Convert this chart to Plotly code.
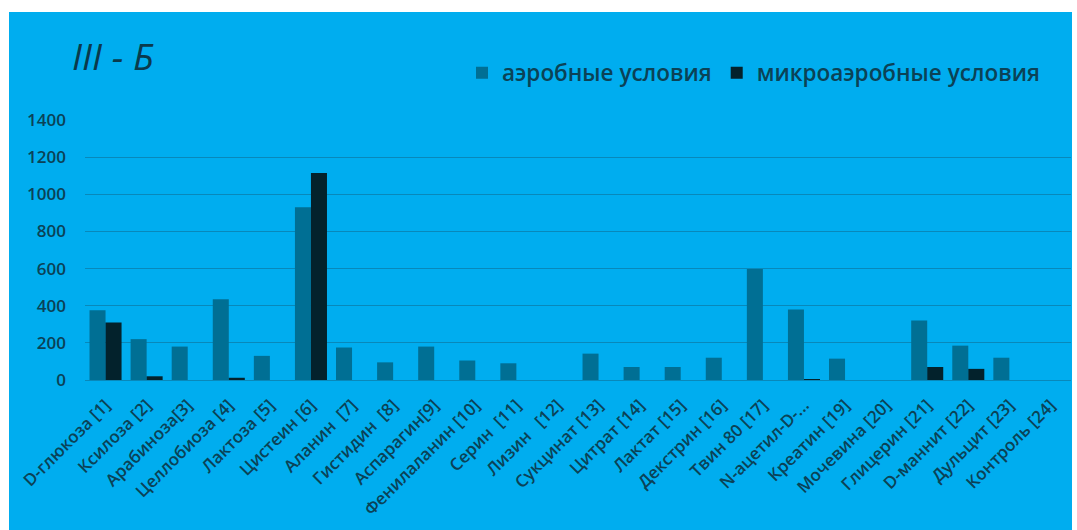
import plotly.graph_objects as go

# Substrates tested (x-axis categories)
categories = [
    "D-глюкоза [1]", "Ксилоза [2]", "Арабиноза[3]", "Целлобиоза [4]",
    "Лактоза [5]", "Цистеин [6]", "Аланин\u00a0 [7]", "Гистидин\u00a0 [8]",
    "Аспарагин[9]", "Фенилаланин [10]", "Серин\u00a0 [11]", "Лизин\u00a0\u00a0 [12]",
    "Сукцинат [13]", "Цитрат [14]", "Лактат [15]", "Декстрин [16]",
    "Твин 80 [17]", "N-ацетил-D-...", "Креатин [19]", "Мочевина [20]",
    "Глицерин [21]", "D-маннит [22]", "Дульцит [23]", "Контроль [24]",
]

# Growth under aerobic conditions
aerobic = [375, 220, 180, 435, 130, 930, 175, 95, 180, 105, 90, 0,
           142, 70, 70, 120, 598, 380, 115, 0, 320, 185, 120, 0]

# Growth under microaerobic conditions
microaerobic = [310, 20, 0, 12, 0, 1115, 0, 0, 0, 0, 0, 0,
                0, 0, 0, 0, 0, 5, 0, 0, 70, 60, 0, 0]

y_ticks = [0, 200, 400, 600, 800, 1000, 1200, 1400]

BG = "#00ADEF"
AERO = "#006F94"
MICRO = "#03222C"
GRID = "#0888BA"
TEXT = "#0B4256"
FONT = "Open Sans"

W, H = 1077, 530
ML, MR, MT, MB = 85, 6, 120, 150
PW = W - ML - MR
PH = H - MT - MB


def px_x(p):
    return (p - ML) / PW


def px_y(p):
    return (H - MB - p) / PH


fig = go.Figure()
fig.add_trace(go.Bar(name="аэробные условия", x=categories, y=aerobic,
                     marker=dict(color=AERO, line=dict(width=0))))
fig.add_trace(go.Bar(name="микроаэробные условия", x=categories, y=microaerobic,
                     marker=dict(color=MICRO, line=dict(width=0))))

# Blue chart panel with thin white margin on top, left and right
fig.add_shape(type="rect", xref="paper", yref="paper",
              x0=px_x(9), x1=px_x(1072), y0=px_y(H), y1=px_y(12),
              fillcolor=BG, line=dict(width=0), layer="below")

fig.add_annotation(text="III - Б", xref="paper", yref="paper",
                   x=px_x(70), y=px_y(55), xanchor="left", yanchor="middle",
                   showarrow=False,
                   font=dict(family=FONT, size=37, color="#0A3A4C", style="italic"))

fig.update_layout(
    width=W, height=H,
    margin=dict(l=ML, r=MR, t=MT, b=MB),
    paper_bgcolor="white",
    plot_bgcolor=BG,
    barmode="group",
    bargap=0.22,
    bargroupgap=0,
    font=dict(family=FONT, color=TEXT),
    legend=dict(orientation="h", x=px_x(462), y=px_y(73), xanchor="left",
                yanchor="middle", bgcolor="rgba(0,0,0,0)",
                font=dict(family=FONT, size=22.5, color=TEXT, weight=600),
                itemwidth=30, traceorder="normal"),
    showlegend=True,
)

fig.update_xaxes(
    type="category", tickangle=-45, showgrid=False, showline=False,
    ticks="", ticklabelstandoff=11, automargin=False,
    tickfont=dict(family=FONT, size=17, color=TEXT, weight=600),
)
fig.update_yaxes(
    range=[0, 1400], tickvals=y_ticks, showgrid=True, gridcolor=GRID,
    gridwidth=1, zeroline=True, zerolinecolor=GRID, zerolinewidth=1,
    showline=False, ticks="", ticklabelstandoff=18, automargin=False,
    tickfont=dict(family=FONT, size=17, color=TEXT, weight=600),
)

fig.write_html("out.html")
